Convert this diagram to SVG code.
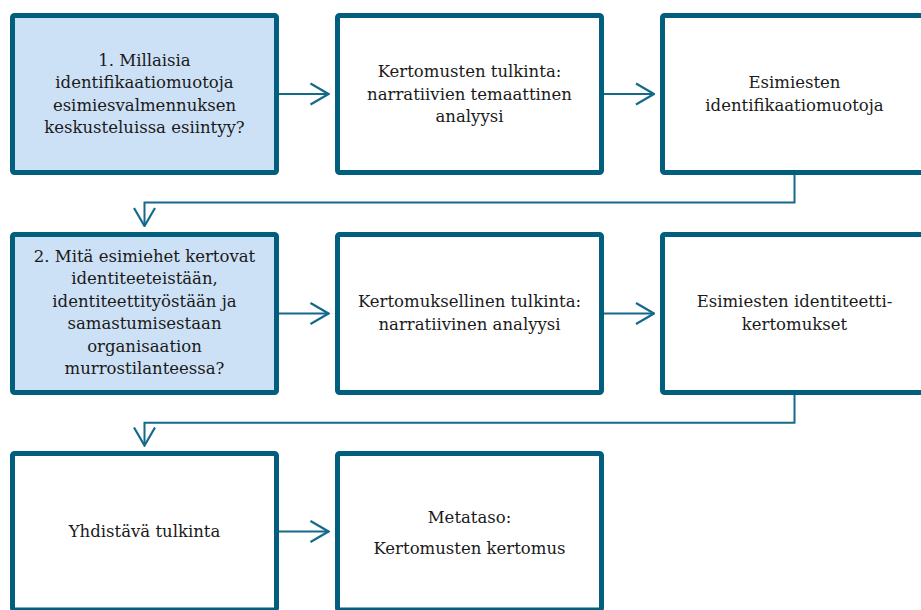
<svg xmlns="http://www.w3.org/2000/svg" width="921" height="610" viewBox="0 0 921 610">
  <defs>
    <style>
      .box { fill: #ffffff; stroke: #015e7c; stroke-width: 5; }
      .q { fill: #cde1f6; }
      .t { font-family: "DejaVu Serif", "Liberation Serif", serif; font-size: 16.5px; fill: #1a1a1a; text-anchor: middle; }
      .c { fill: none; stroke: #15698a; stroke-width: 2; }
    </style>
    <marker id="ah" markerUnits="userSpaceOnUse" viewBox="0 0 20 24" markerWidth="20" markerHeight="24" refX="19" refY="12" orient="auto">
      <path d="M1,1.5 L19,12 L1,22.5" fill="none" stroke="#15698a" stroke-width="2.2"/>
    </marker>
  </defs>
  <rect width="921" height="610" fill="#ffffff"/>

  <g id="connectors">
    <line class="c" x1="279" y1="94" x2="328.5" y2="94" marker-end="url(#ah)"/>
    <line class="c" x1="604" y1="94" x2="654" y2="94" marker-end="url(#ah)"/>
    <polyline class="c" points="794.5,175 794.5,202.5 144.5,202.5 144.5,226" marker-end="url(#ah)"/>
    <line class="c" x1="279" y1="313.5" x2="328.5" y2="313.5" marker-end="url(#ah)"/>
    <line class="c" x1="604" y1="313.5" x2="654" y2="313.5" marker-end="url(#ah)"/>
    <polyline class="c" points="794.5,395 794.5,422.7 144.5,422.7 144.5,445.5" marker-end="url(#ah)"/>
    <line class="c" x1="279" y1="531.5" x2="328.5" y2="531.5" marker-end="url(#ah)"/>
  </g>

  <g id="q1">
    <rect class="box q" x="12.5" y="15.5" width="264" height="157" rx="2"/>
    <text class="t" x="144.5" y="66">1. Millaisia</text>
    <text class="t" x="144.5" y="88.3">identifikaatiomuotoja</text>
    <text class="t" x="144.5" y="110.7">esimiesvalmennuksen</text>
    <text class="t" x="144.5" y="133">keskusteluissa esiintyy?</text>
  </g>
  <g id="n_tulkinta1">
    <rect class="box" x="337.5" y="15.5" width="264" height="157" rx="2"/>
    <text class="t" x="469.5" y="77.3">Kertomusten tulkinta:</text>
    <text class="t" x="469.5" y="99.6">narratiivien temaattinen</text>
    <text class="t" x="469.5" y="121.8">analyysi</text>
  </g>
  <g id="n_identifikaatio">
    <rect class="box" x="662.5" y="15.5" width="270" height="157" rx="2"/>
    <text class="t" x="794.5" y="88.3">Esimiesten</text>
    <text class="t" x="794.5" y="110.5">identifikaatiomuotoja</text>
  </g>

  <g id="q2">
    <rect class="box q" x="12.5" y="234.5" width="264" height="158" rx="2"/>
    <text class="t" x="144.5" y="261.7">2. Mitä esimiehet kertovat</text>
    <text class="t" x="144.5" y="284.2">identiteeteistään,</text>
    <text class="t" x="144.5" y="306.7">identiteettityöstään ja</text>
    <text class="t" x="144.5" y="329.3">samastumisestaan</text>
    <text class="t" x="144.5" y="351.8">organisaation</text>
    <text class="t" x="144.5" y="374.4">murrostilanteessa?</text>
  </g>
  <g id="n_tulkinta2">
    <rect class="box" x="337.5" y="234.5" width="264" height="158" rx="2"/>
    <text class="t" x="469.5" y="307">Kertomuksellinen tulkinta:</text>
    <text class="t" x="469.5" y="329.5">narratiivinen analyysi</text>
  </g>
  <g id="n_identiteetti">
    <rect class="box" x="662.5" y="234.5" width="270" height="158" rx="2"/>
    <text class="t" x="794.5" y="307">Esimiesten identiteetti-</text>
    <text class="t" x="794.5" y="329.5">kertomukset</text>
  </g>

  <g id="n_yhdistava">
    <rect class="box" x="12.5" y="453.5" width="264" height="156.5" rx="2"/>
    <text class="t" x="144.5" y="537">Yhdistävä tulkinta</text>
  </g>
  <g id="n_metataso">
    <rect class="box" x="337.5" y="453.5" width="264" height="156.5" rx="2"/>
    <text class="t" x="469.5" y="522.7">Metataso:</text>
    <text class="t" x="469.5" y="553.5">Kertomusten kertomus</text>
  </g>
</svg>
